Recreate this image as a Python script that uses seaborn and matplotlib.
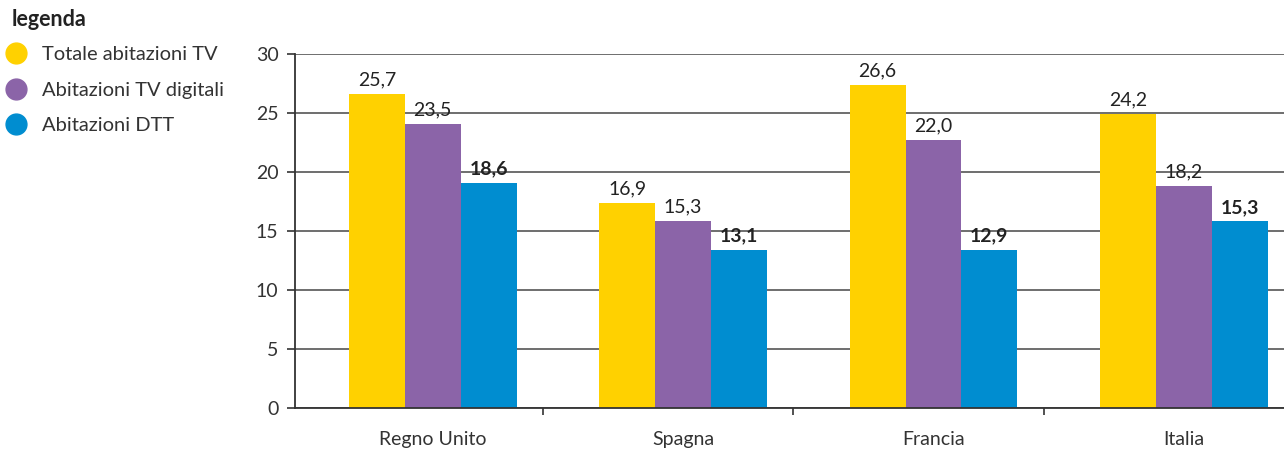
import matplotlib
matplotlib.use("Agg")
import matplotlib.pyplot as plt
from matplotlib.lines import Line2D
import seaborn as sns
import pandas as pd

# Data
paesi = ["Regno Unito", "Spagna", "Francia", "Italia"]
serie = ["Totale abitazioni TV", "Abitazioni TV digitali", "Abitazioni DTT"]
# bar heights as drawn in the original (milioni)
totale_tv = [26.6, 17.4, 27.4, 24.9]
digitale_tv = [24.1, 15.8, 22.7, 18.8]
dtt = [19.1, 13.4, 13.4, 15.8]
# value labels as printed above the bars
lab_totale = ["25,7", "16,9", "26,6", "24,2"]
lab_digitale = ["23,5", "15,3", "22,0", "18,2"]
lab_dtt = ["18,6", "13,1", "12,9", "15,3"]

colori = ["#FFD100", "#8B64A8", "#008DD0"]

df = pd.DataFrame({
    "paese": paesi * 3,
    "serie": [serie[0]] * 4 + [serie[1]] * 4 + [serie[2]] * 4,
    "valore": totale_tv + digitale_tv + dtt,
})

sns.set_style("white")
plt.rcParams["font.family"] = ["Lato", "DejaVu Sans"]
testo = "#333333"

fig = plt.figure(figsize=(12.84, 4.5), dpi=100)
ax = fig.add_axes([0.2298, 0.094, 0.7702, 0.786])

sns.barplot(data=df, x="paese", y="valore", hue="serie", palette=colori,
            width=0.67, saturation=1, linewidth=0, legend=False, ax=ax)

# Value labels, DTT in bold
for cont, labs in zip(ax.containers, [lab_totale, lab_digitale, lab_dtt]):
    bold = labs is lab_dtt
    ax.bar_label(cont, labels=labs, padding=4, fontsize=14, color="#222222",
                 fontweight="bold" if bold else "normal")

ax.set_ylim(0, 30)
ax.set_xlim(-0.55, 3.40)
ax.set_yticks(range(0, 31, 5))
ax.set_xlabel("")
ax.set_ylabel("")
ax.set_axisbelow(True)
ax.yaxis.grid(True, color="#555555", linewidth=1.2)
ax.xaxis.grid(False)

for s in ["top", "right"]:
    ax.spines[s].set_visible(False)
for s in ["left", "bottom"]:
    ax.spines[s].set_color("#333333")
    ax.spines[s].set_linewidth(1.3)

ax.tick_params(axis="y", length=6, width=1.2, color="#333333",
               labelsize=14, labelcolor=testo, pad=6, left=True)
ax.tick_params(axis="x", which="major", length=0, labelsize=14,
               labelcolor=testo, pad=17)
ax.set_xticks([0.44, 1.44, 2.44], minor=True)
ax.tick_params(axis="x", which="minor", length=5, width=1.2,
               color="#333333", bottom=True)

# Legend at top left
fig.text(12 / 1284, 1 - 20 / 450, "legenda", fontsize=15.5, fontweight="bold",
         color="#222222", ha="left", va="center")
handles = [Line2D([], [], marker="o", linestyle="", markersize=15,
                  markerfacecolor=c, markeredgecolor=c) for c in colori]
leg = fig.legend(handles, serie, loc="center left",
                 bbox_to_anchor=(-0.009, 1 - 90 / 450),
                 frameon=False, fontsize=14.5,
                 handletextpad=0.75, handlelength=1.1,
                 labelspacing=0.93, borderaxespad=0.4)
for t in leg.get_texts():
    t.set_color(testo)

fig.savefig("out.png", dpi=100)
